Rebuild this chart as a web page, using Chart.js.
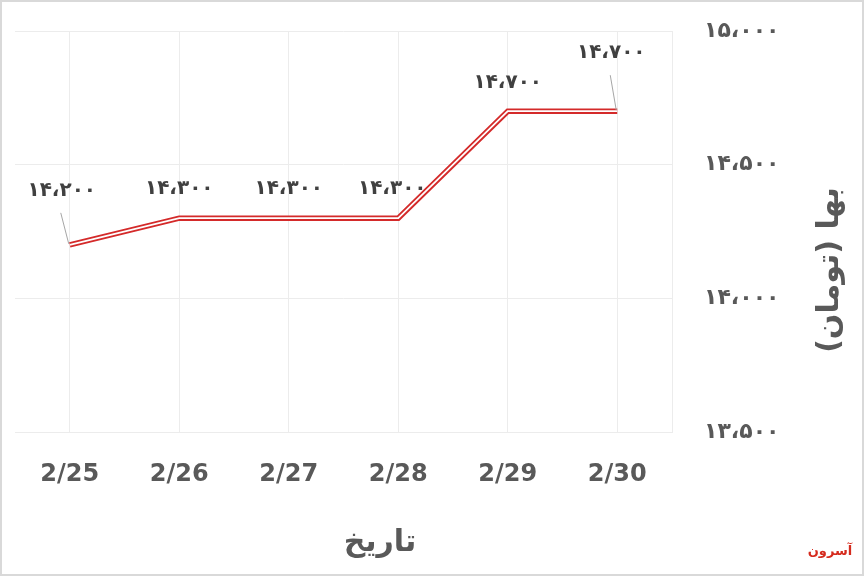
<!DOCTYPE html>
<html>
<head>
<meta charset="utf-8">
<script src="https://cdn.jsdelivr.net/npm/chart.js@4.4.1/dist/chart.umd.min.js"></script>
<style>
  html, body { margin: 0; padding: 0; background: #fff; }
  canvas { display: block; }
</style>
</head>
<body>
<canvas id="price" width="864" height="576"></canvas>
<script>
const dates = ["2/25", "2/26", "2/27", "2/28", "2/29", "2/30"];
const prices = [14200, 14300, 14300, 14300, 14700, 14700];
const yTicks = [13500, 14000, 14500, 15000];
const xTitle = "تاریخ";
const yTitle = "بها (تومان)";

// label offsets from each point (pixels)
const labelShift = [[-8, -54], [0, -29], [0, -29], [-6, -29], [0, -28], [-6, -58]];

function faNum(v) {
  const s = v.toLocaleString("en-US").replace(/,/g, "،");
  return s.replace(/[0-9]/g, d => "۰۱۲۳۴۵۶۷۸۹"[d]);
}

const frame = {
  id: "frame",
  beforeDraw(chart) {
    const c = chart.ctx;
    c.save();
    c.fillStyle = "#fff";
    c.fillRect(0, 0, chart.width, chart.height);
    c.restore();
  },
  afterDraw(chart) {
    const c = chart.ctx;
    c.save();
    c.strokeStyle = "#d9d9d9";
    c.lineWidth = 2;
    c.strokeRect(1, 1, chart.width - 2, chart.height - 2);

    // axis titles
    c.fillStyle = "#595959";
    c.font = "bold 30px 'DejaVu Sans'";
    c.textAlign = "center";
    c.textBaseline = "middle";
    c.fillText(xTitle, 380, 543);
    c.translate(830, 270);
    c.rotate(-Math.PI / 2);
    c.fillText(yTitle, 0, 0);
    c.setTransform(1, 0, 0, 1, 0, 0);

    c.fillStyle = "#d52b1e";
    c.font = "bold 13px 'DejaVu Sans'";
    c.fillText("آسرون", 830, 552);
    c.restore();
  }
};

const valueLabels = {
  id: "valueLabels",
  afterDatasetsDraw(chart) {
    const meta = chart.getDatasetMeta(0);
    const c = chart.ctx;
    c.save();
    c.font = "bold 20px 'DejaVu Sans'";
    c.textAlign = "center";
    c.textBaseline = "middle";
    meta.data.forEach((pt, i) => {
      const [dx, dy] = labelShift[i];
      const lx = pt.x + dx, ly = pt.y + dy;
      if (dy < -40) {
        c.strokeStyle = "#a6a6a6";
        c.lineWidth = 1;
        c.beginPath();
        c.moveTo(lx - 1, ly + 22);
        c.lineTo(pt.x - 1, pt.y - 1);
        c.stroke();
      }
      c.fillStyle = "#404040";
      c.fillText(faNum(prices[i]), lx, ly);
    });
    c.restore();
  }
};

new Chart(document.getElementById("price"), {
  type: "line",
  data: {
    labels: dates,
    datasets: [
      { data: prices, borderColor: "#d42a2a", borderWidth: 5.5, pointRadius: 0, tension: 0, order: 1 },
      { data: prices, borderColor: "#ffffff", borderWidth: 1.8, pointRadius: 0, tension: 0, order: 0 }
    ]
  },
  options: {
    responsive: false,
    animation: false,
    layout: { padding: { left: 15, top: 31, right: 0, bottom: 0 } },
    plugins: { legend: { display: false }, tooltip: { enabled: false } },
    scales: {
      x: {
        offset: true,
        grid: { color: "#ececec", drawTicks: false },
        border: { color: "#ececec" },
        ticks: { color: "#595959", font: { family: "'DejaVu Sans'", size: 24, weight: "bold" }, padding: 28 },
        afterFit(s) { s.height = 144; s.paddingLeft = 0; s.paddingRight = 0; }
      },
      y: {
        position: "right",
        min: 13500,
        max: 15000,
        afterBuildTicks(s) { s.ticks = yTicks.map(v => ({ value: v })); },
        grid: { color: "#ececec", drawTicks: false },
        border: { color: "#ececec" },
        ticks: { color: "#595959", font: { family: "'DejaVu Sans'", size: 22, weight: "bold" }, padding: 32, callback: v => faNum(v) },
        afterFit(s) { s.width = 192; s.paddingTop = 0; s.paddingBottom = 0; }
      }
    }
  },
  plugins: [frame, valueLabels]
});
</script>
</body>
</html>
